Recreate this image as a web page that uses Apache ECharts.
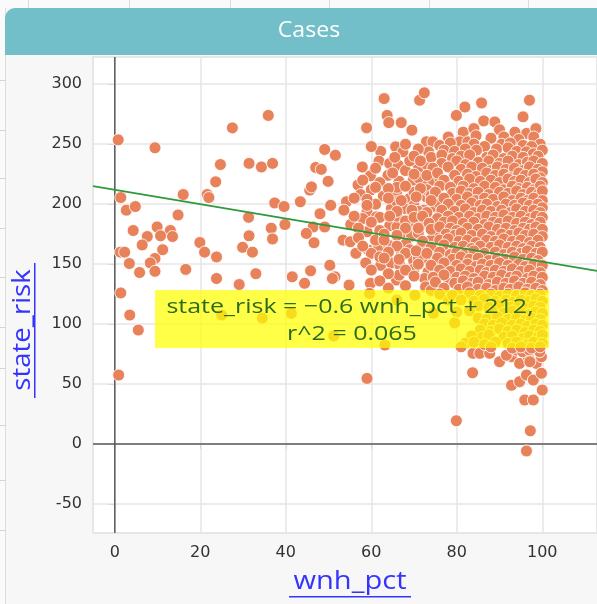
<!DOCTYPE html>
<html>
<head>
<meta charset="utf-8">
<script src="https://cdn.jsdelivr.net/npm/echarts@6/dist/echarts.min.js"></script>
<style>
  html, body { margin: 0; padding: 0; background: #fafafa; }
  #chart { width: 597px; height: 604px; }
</style>
</head>
<body>
<div id="chart"></div>
<script>
// x = wnh_pct, y = state_risk
const sparsePoints = [
  [0.8,253.6],[9.4,247],[27.5,263.6],[35.9,274],[24.7,233],[31.4,234],[34.3,231],[36.9,234],
  [23.6,218.6],[16,208],[21.6,208],[22,205.5],[1.4,205.5],[2.7,195],[4.8,198],[14.8,191],
  [37.4,201],[39.6,198],[31.3,189],[4.3,178],[9.9,181],[13,178],[7.6,173],[10.7,173.6],
  [13.5,173],[36.6,180],[39.8,183],[31.4,173.6],[36.9,171],[6.4,166],[11.2,162],[19.9,168],
  [21,160],[23.8,156],[29.9,164],[32.2,160],[1.3,160],[2.3,160],[3.4,150.5],[9.4,154.7],
  [8.3,151],[5.8,143],[9.4,144],[16.6,145.6],[23.8,138],[33,142],[29.1,133],[1.4,126],
  [3.5,107.5],[5.5,95],[0.9,57.5],[25,107.5],[34.5,105]
];
const midPoints = [
  [63,288],[71.3,286.7],[72.4,292.8],[63.7,274],[64.1,268],[67,268],[69.5,261.7],[58.9,263.6],
  [72.9,252],[74.4,252],[73.4,243.6],[49.1,245.6],[51.6,240.8],[65.7,247.8],[62.2,244],[67.4,243.6],
  [47,230.6],[48.3,229],[49.9,219],[57.9,231],[61.8,235.8],[64.3,234],[66.3,232.5],[68,228],
  [71,229.7],[59.8,223.6],[63.9,224],[66.5,219],[69.8,220],[72.5,216],[74.4,220],[56.9,216],
  [57.5,208],[62.8,206.7],[65.9,209.4],[69,204.7],[72.9,206],[45.6,211.7],[46,214.4],[43.4,202],
  [50.5,199],[54.2,202],[53.6,195],[48,192],[59,193.6],[61.2,189.4],[64.7,196.4],[67.8,196.4],
  [72.3,195],[74.9,197.8],[55.2,183],[46.4,181],[49.1,181],[44.8,175.6],[46.6,167.8],[53.4,170],
  [55.1,168.6],[59,177],[64.3,182],[66,181],[69.8,182.5],[68.2,175.6],[69.4,173.3],[75.2,174],
  [56.4,159],[59.3,161.7],[61.6,163],[60,159],[68.1,167],[71.7,164.4],[69.9,153.3],[73.3,153.3],
  [50.3,149],[58.7,151],[62.2,149],[64.7,151],[66.7,149],[45.8,144.4],[41.5,139.4],[51.5,139.4],
  [73.3,143.6],[44.4,134],[50.9,138],[54.8,132.5],[59.8,134],[65.9,136.7],[66.5,140.8],[72.5,138],
  [72.7,131],[70.2,124],[59.6,125.6],[41.3,109],[51.2,90],[63.2,82.5],[59,54.7],[74.5,109]
];
const midFillPoints = [
  [60,248],[68,250],[71,246],[78,256],[61,230],[69,236],[73,233],[58,220],[62,218],[65,226],
  [71,222],[76,222],[60,212],[66,214],[70,210],[73,212],[56,205],[61,200],[66,202],[70,199],
  [74,207],[76,200],[58,188],[66,190],[68,186],[71,194],[76,191],[57,180],[62,178],[68,180],
  [72,184],[76,185],[57,172],[61,170],[66,174],[71,176],[74,170],[78,166],[58,165],[64,166],
  [69,162],[75,163],[62,156],[67,158],[71,155],[77,156],[60,145],[64,142],[70,146],[75,142],
  [78,138],[62,136],[68,132],[74,128],[78,120],[66,120]
];
const topRightPoints = [
  [97,286.7],[85.8,284.4],[81.9,281],[79.9,274],[86.3,269.4],[88.9,268.6],[95.5,272.8],[96.3,259],
  [93.6,260],[81.5,260],[80.7,252],[82.6,252],[84,263],[90,262],[98.5,263]
];
const lowPoints = [
  [83.8,75.6],[85.4,75.6],[87.7,75.6],[83.7,59.4],[90,68.6],[92.8,72.8],[94.7,67.2],[96.7,72.8],
  [98.6,67.2],[99.8,72.8],[92.8,49],[94.7,52],[96.3,57.5],[97.9,53.3],[99.8,59],[100,45],
  [95.9,36.7],[97.9,36.7],[79.9,19.4],[97.2,11],[96.3,-5.8],[91.6,74],[93.9,78.3],[95.4,77],
  [97,78.3],[99.4,77],[97.1,68.6]
];
const densePoints = [
  [84.5,257],[88,255],[91,256],[94.5,254],[98,256],[99.5,250],
  [76,249],[78.5,251],[84,250],[86.5,248],[90.5,250],[92.5,251],[95.5,249],[97.5,248],
  [77,245],[79.5,244],[82,246],[84.6,245],[89.3,246],[92,247],[94,244],[96.3,243.6],[97.9,242],[100,245],
  [70,240],[74,239],[76.5,241],[79,238],[81,240],[83,241],[87,239],[88.5,241],[91,238],[93,240],[95.5,239],[99,240],
  [65.5,239],[71.5,236],[76.5,234],[80,236],[82,233],[85,235],[87.5,236],[90,234],[92,236],[94.5,233],[96.5,235],[98,236],[100,234],
  [74.4,230],[78,231],[81,229],[83.5,231],[86,230],[88,228],[89.5,231],[91.5,229],[93.5,230],[95.5,228],[97,231],[99,229],[100,227],
  [70,225],[73,224],[75.5,226],[79.5,224],[82.5,225],[84.5,223],[87,226],[89,224],[91,225],[92.5,222],[94.5,226],[96,224],[98,225],[99.5,222],
  [77,220],[80.5,219],[83,221],[85.5,219],[88,220],[90,218],[92,221],[93.5,219],[95,220],[97,218],[98.5,221],[100,218],
  [61,214],[64,213],[68,215],[71.5,213],[76,215],[78.5,214],[81.5,215],[84,213],[86.5,215],[89,214],[91,212],[93,215],[94.5,213],[96.5,214],[98,212],[99.5,215],
  [75,210],[79,209],[81,211],[83,209],[85,210],[87.5,208],[90,210],[92,209],[94,211],[95.5,208],[97.5,210],[99,208],[100,211],
  [59,204],[64,205],[67,203],[70.5,206],[74,203],[77,205],[80,204],[82.5,206],[84.5,203],[86.5,205],[88.5,204],[91,206],[93,203],[95,205],[96.5,203],[98,205],[100,203],
  [59,199],[78,200],[81,199],[83.5,201],[85.5,199],[87,200],[89.5,198],[91.5,200],[93.5,199],[95.5,201],[97,199],[99,200],[100,197],
  [66,194],[69.5,195],[73,193],[76.5,195],[79.5,194],[82,196],[84,193],[86,195],[88,194],[90.5,195],[92.5,193],[94,196],[96,194],[98,195],[99.5,193],
  [56,190],[62,189],[64.3,190],[70,189],[72,190],[75.5,188],[78,190],[80.5,189],[83,190],[85,188],[87,190],[89,189],[91,191],[93,189],[95,190],[97,188],[98.5,190],[100,189],
  [60,185],[73.5,184],[77,185],[79,186],[81.5,184],[84,185],[86.5,183],[88.5,185],[90,184],[92,186],[94,184],[96,185],[97.5,183],[99.5,185],
  [71,180],[74,179],[76,181],[78.5,180],[80,178],[82.5,180],[85,179],[87.5,181],[89.5,179],[91.5,180],[93.5,178],[95.5,180],[97,179],[98.5,181],[100,179],
  [63,175],[77.5,175],[79.5,174],[81,176],[83.5,174],[86,175],[88,173],[90.5,175],[92.5,174],[94.5,176],[96,174],[98,175],[100,173],
  [63,170],[72,169],[76,170],[78,171],[80.5,169],[82.5,170],[84.5,168],[87,170],[89,169],[91,171],[93,169],[95,170],[97,168],[99,170],
  [66,165],[74,164],[77,166],[79.5,164],[81.5,165],[83.5,163],[85.5,165],[88,164],[90,166],[92,164],[94,165],[95.5,163],[97.5,165],[99.5,164],
  [64,160],[68,159],[70.5,161],[73,159],[76,160],[78.5,158],[80,160],[82,159],[84,161],[86.5,159],[89,160],[91,158],[93,160],[95,159],[96.5,161],[98.5,159],[100,160],
  [63,155],[66.5,154],[75.5,155],[79,154],[81,156],[83,154],[85,155],[87.5,153],[89.5,155],[91.5,154],[93.5,156],[95.5,154],[97.5,155],[99,153],
  [71,150],[74,149],[77,151],[80,149],[82.5,150],[84.5,148],[86,150],[88,149],[90,151],[92,149],[94.5,150],[96,148],[98,150],[100,149],
  [68,145],[76,145],[78.5,144],[81,146],[83,144],[85.5,145],[87,143],[89,145],[91,144],[93,146],[95,144],[97,145],[99.5,143],
  [70,140],[74.5,139],[77,141],[80,139],[82,140],[84,138],[86.5,140],[88.5,139],[90.5,141],[92.5,139],[94,140],[96.5,138],[98,140],[100,139],
  [75,135],[79.5,134],[81.5,136],[83.5,134],[85,135],[87.5,133],[89.5,135],[91.5,134],[93.5,136],[95.5,134],[97.5,135],[99.5,133],
  [64,130],[77,130],[80.5,129],[82.5,131],[85,129],[87,130],[89,128],[91,130],[92.5,129],[94.5,131],[96.5,129],[98.5,130],[100,128],
  [76,125],[79,124],[83,126],[85.5,124],[88,125],[90,123],[92,125],[94,124],[96,126],[97.5,124],[99.5,125],
  [81,120],[84,119],[86.5,121],[89,119],[91.5,120],[93,118],[95,120],[97,119],[98.5,121],[100,119],
  [85,115],[87.5,114],[90,116],[92.5,114],[94.5,115],[96,113],[98,115],[99.5,114],
  [80,110],[83,111],[88.5,110],[91,109],[93,111],[95,110],[97,108],[98.5,110],[100,109],
  [85,105],[87,104],[89.5,106],[92,104],[94,105],[96,103],[97.5,105],[99.5,104],
  [79.5,101],[86.5,100],[88.5,99],[90.5,101],[93,99],[95,100],[96.5,98],[98.5,100],[100,99],
  [85.5,95],[88,94],[90,96],[92,94],[94,95],[96,93],[98,95],[99.5,94],
  [83.5,90],[86,89],[87.5,91],[91,89],[93,90],[95.5,88],[97,90],[99,89],[100,91],
  [82,84],[84,85],[86.5,83],[89,85],[92,84],[94,85],[96.5,83],[98,85],[100,84],
  [81,81],[88,81],[93,80],[95,81],[97.5,80],[99.5,81]
];

const fitSlope = -0.6;
const fitIntercept = 212;
const fitR2 = 0.065;
const xRange = [-5.1, 112.8];
const yRange = [-74.2, 322.7];

const allPoints = [].concat(sparsePoints, midPoints, midFillPoints, topRightPoints, lowPoints, densePoints);
const fitLine = xRange.map(x => [x, fitIntercept + fitSlope * x]);

const FONT = '"Open Sans", "Noto Sans", sans-serif';
const TICK_FONT = '"DejaVu Sans", sans-serif';
const chart = echarts.init(document.getElementById('chart'));

const bgLines = [28, 129, 230, 329, 429, 528].map(x => ({
  type: 'rect', z: -90, silent: true,
  shape: { x: x, y: 0, width: 1, height: 8 },
  style: { fill: '#dcdcdc' }
}));
const leftLines = [80, 130, 178, 228, 277, 327, 368, 425, 480, 530].map(y => ({
  type: 'rect', z: -90, silent: true,
  shape: { x: 0, y: y, width: 5, height: 1 },
  style: { fill: '#d4d4d4' }
}));

function centered (extra) {
  return Object.assign({ align: 'center', verticalAlign: 'middle', textAlign: 'center', textVerticalAlign: 'middle' }, extra)
}

const option = {
  backgroundColor: '#f7f7f7',
  animation: false,
  grid: {
    left: 93, top: 57, right: 0, bottom: 71,
    show: true, backgroundColor: '#ffffff', borderColor: '#e2e2e2', borderWidth: 1.5
  },
  xAxis: {
    type: 'value', min: xRange[0], max: xRange[1], splitNumber: 6,
    axisLine: { show: false },
    axisTick: { show: true, length: 5, lineStyle: { color: '#d8d8d8' } },
    axisLabel: { color: '#333', fontSize: 16, fontFamily: TICK_FONT, margin: 12, showMinLabel: false, showMaxLabel: false },
    splitLine: { show: true, lineStyle: { color: '#e6e6e6', width: 1.5 } }
  },
  yAxis: {
    type: 'value', min: yRange[0], max: yRange[1], splitNumber: 8,
    axisLine: { show: false },
    axisTick: { show: true, length: 6, lineStyle: { color: '#d8d8d8' } },
    axisLabel: { color: '#333', fontSize: 16, fontFamily: TICK_FONT, margin: 11, showMinLabel: false, showMaxLabel: false },
    splitLine: { show: true, lineStyle: { color: '#e6e6e6', width: 1.5 } }
  },
  series: [
    {
      type: 'line', z: 1, silent: true, symbol: 'none',
      data: [[0, yRange[0]], [0, yRange[1]]],
      lineStyle: { color: '#5a5a5a', width: 1.5 }
    },
    {
      type: 'line', z: 1, silent: true, symbol: 'none',
      data: [[xRange[0], 0], [xRange[1], 0]],
      lineStyle: { color: '#5a5a5a', width: 1.5 }
    },
    {
      name: 'Cases', type: 'scatter', z: 2,
      symbolSize: 12,
      data: allPoints,
      itemStyle: { color: '#e8825b', borderColor: 'rgba(255,255,255,0.85)', borderWidth: 1, opacity: 1 }
    },
    {
      type: 'line', z: 3, silent: true, symbol: 'none',
      data: fitLine,
      lineStyle: { color: '#2e9a3a', width: 1.8 }
    }
  ],
  graphic: [
    { type: 'rect', z: -100, silent: true, shape: { x: 0, y: 0, width: 597, height: 8 }, style: { fill: '#fafafa' } },
    { type: 'rect', z: -100, silent: true, shape: { x: 0, y: 0, width: 5, height: 604 }, style: { fill: '#fafafa' } },
    { type: 'rect', z: -95, silent: true, shape: { x: 5, y: 8, width: 1, height: 596 }, style: { fill: '#dcdcdc' } }
  ].concat(bgLines, leftLines, [
    {
      type: 'rect', z: 50, silent: true,
      shape: { x: 5, y: 8, width: 620, height: 47, r: [10, 0, 0, 0] },
      style: { fill: '#72bfc9' }
    },
    {
      type: 'text', z: 51, silent: true, x: 309, y: 31, scaleX: 1.1,
      style: centered({ text: 'Cases', fill: '#ffffff', font: '500 21px ' + FONT })
    },
    {
      type: 'rect', z: 100, silent: true,
      shape: { x: 155, y: 290, width: 394, height: 58 },
      style: { fill: 'rgba(255,255,0,0.72)' }
    },
    {
      type: 'text', z: 101, silent: true, x: 350, y: 307, scaleX: 1.25,
      style: centered({ text: 'state_risk = \u22120.6 wnh_pct + 212,', fill: '#2c6b1e', font: '20px ' + FONT })
    },
    {
      type: 'text', z: 101, silent: true, x: 352, y: 334, scaleX: 1.25,
      style: centered({ text: 'r^2 = ' + fitR2, fill: '#2c6b1e', font: '20px ' + FONT })
    },
    {
      type: 'text', z: 60, silent: true, x: 350, y: 582, scaleX: 1.12,
      style: centered({ text: 'wnh_pct', fill: '#3434ff', font: '26px ' + FONT })
    },
    { type: 'rect', z: 60, silent: true, shape: { x: 289, y: 596, width: 122, height: 1.5 }, style: { fill: '#3434ff' } },
    {
      type: 'text', z: 60, silent: true, x: 23, y: 330, rotation: Math.PI / 2, scaleX: 1.06,
      style: centered({ text: 'state_risk', fill: '#3434ff', font: '26px ' + FONT })
    },
    { type: 'rect', z: 60, silent: true, shape: { x: 34, y: 263, width: 1.5, height: 135 }, style: { fill: '#3434ff' } }
  ])
};

chart.setOption(option);
</script>
</body>
</html>
